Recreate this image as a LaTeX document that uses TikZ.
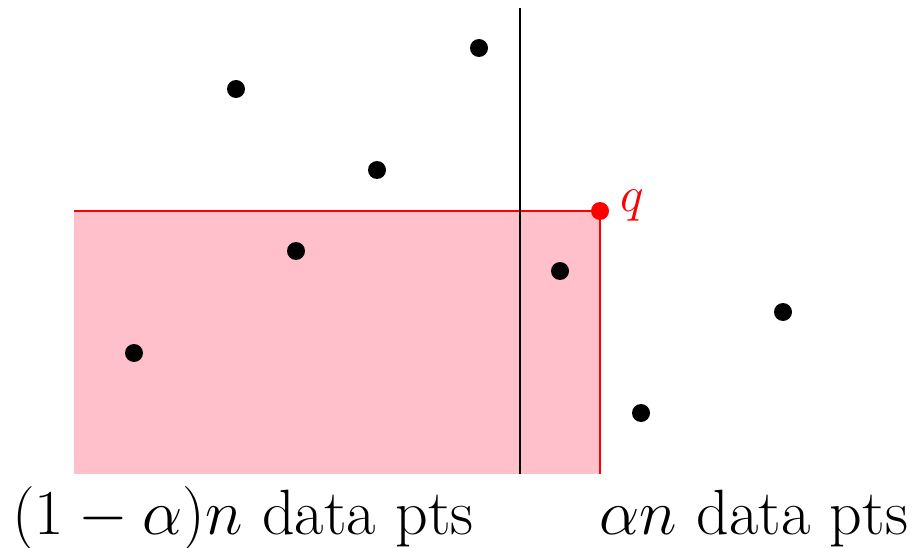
\RequirePackage{fix-cm}
\documentclass[tikz,border=0pt]{standalone}
\definecolor{pinkfill}{RGB}{255,192,203}
\begin{document}
\begin{tikzpicture}[x=1pt,y=-1pt,
  dot/.style={circle,fill=black,inner sep=0pt,minimum size=18pt},
  lbl/.style={font=\fontsize{64}{70}\selectfont,inner sep=0pt,anchor=base}]
\useasboundingbox (0,0) rectangle (913,548);
\coordinate (rtl) at (74,211);
\coordinate (rbr) at (600,474);
\fill[pinkfill] (rtl) rectangle (rbr);
\draw[red,line width=1.6pt] (rtl) -- (rtl -| rbr) -- (rbr);
\coordinate (vtop) at (520,8);
\coordinate (vbot) at (520,474);
\draw[black,line width=2pt] (vtop) -- (vbot);
\node[dot] (p1) at (236,89) {};
\node[dot] (p2) at (479,48) {};
\node[dot] (p3) at (377,170) {};
\node[dot] (p4) at (296,251) {};
\node[dot] (p5) at (134,353) {};
\node[dot] (p6) at (560,271) {};
\node[dot] (p7) at (783,312) {};
\node[dot] (p8) at (641,413) {};
\node[dot,fill=red] (q) at (600,211) {};
\node[text=red,font=\fontsize{50}{55}\selectfont,inner sep=0pt,anchor=base west] (ql) at (620,212) {$q$};
\node[lbl] (tl) at (243,534) {$(1-\alpha)n$ data pts};
\node[lbl] (tr) at (754,534) {$\alpha n$ data pts};
\end{tikzpicture}
\end{document}
